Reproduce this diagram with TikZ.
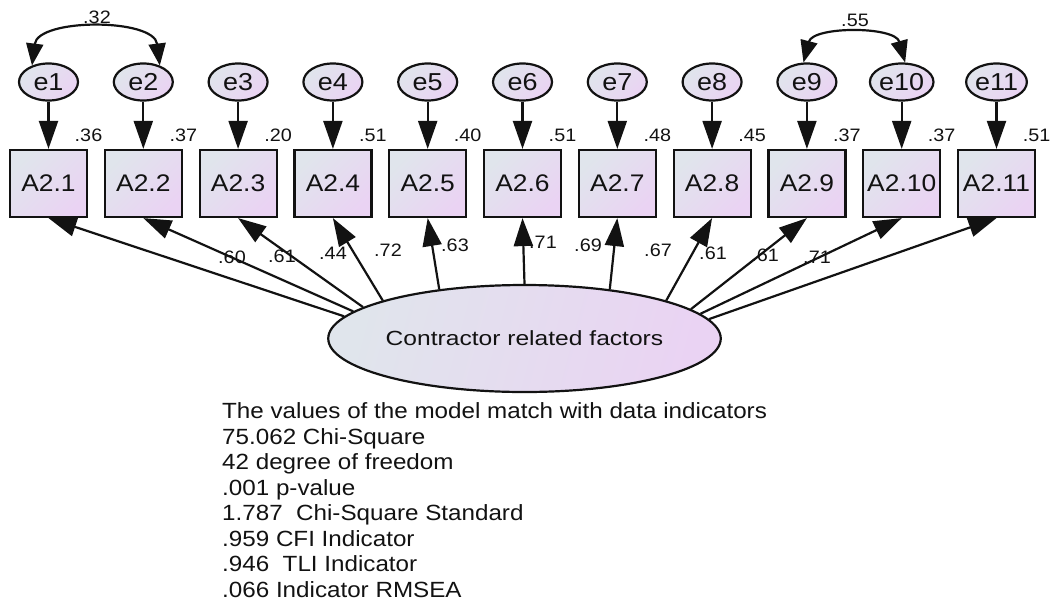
\documentclass[tikz,border=0pt]{standalone}
\usepackage{fontspec}
\setmainfont{Liberation Sans}[FakeStretch=1.1]
\newfontfamily\widefont{Liberation Sans}[FakeStretch=1.2]
\usetikzlibrary{arrows.meta,shapes.geometric}
\definecolor{boxA}{RGB}{224,229,236}
\definecolor{boxB}{RGB}{234,211,243}
\definecolor{ink}{RGB}{18,18,18}
\begin{document}
\begin{tikzpicture}[x=1pt,y=-1pt,
  obs/.style={draw=ink, line width=2.2pt, minimum width=77pt, minimum height=67pt,
    inner sep=0pt, top color=boxA, bottom color=boxB, shading angle=45,
    font=\fontsize{24}{24}\selectfont, text=ink},
  err/.style={ellipse, draw=ink, line width=2.2pt, minimum width=59pt, minimum height=37pt,
    inner sep=0pt, top color=boxA, bottom color=boxB, shading angle=45,
    font=\fontsize{24.5}{24}\selectfont, text=ink},
  lat/.style={ellipse, draw=ink, line width=2.2pt, minimum width=295pt, minimum height=107pt,
    inner sep=0pt, left color=boxA, right color=boxB, shading angle=75,
    font=\widefont\fontsize{20.5}{22}\selectfont, text=ink},
  arr/.style={-{Triangle[length=28pt,width=19pt]}, line width=2.2pt, draw=ink},
  cov/.style={{Triangle[length=22pt,width=17pt]}-{Triangle[length=22pt,width=17pt]},
    line width=2.2pt, draw=ink},
  num/.style={font=\fontsize{18}{18}\selectfont, inner sep=0pt, text=ink},
  fitbox/.style={anchor=north west, align=left, inner sep=0pt,
    font=\fontsize{22}{25.5}\selectfont, text=ink}
]
\useasboundingbox (0,0) rectangle (1057,600);

\node[lat] (F) at (524.5,338.5) {Contractor related factors};

\foreach \i/\r [count=\k from 0] in {1/.36,2/.37,3/.20,4/.51,5/.40,6/.51,7/.48,8/.45,9/.37,10/.37,11/.51}{
  \pgfmathsetmacro\xx{48.5+94.8*\k}
  \node[obs] (A\i) at (\xx,183.5) {A2.\i};
  \node[err] (e\i) at (\xx,82) {e\i};
  \node[num] (r\i) at (\xx+40,135) {\r};
  \draw[arr] (e\i) -- (A\i);
}

\foreach \i/\a/\l/\lx/\ly in {1/173/.60/232/257, 2/171.5/.61/282/256, 3/169/.44/333/253,
  4/165.5/.72/388/250, 5/150.4/.63/455/245, 6/90/.71/543/242, 7/30.2/.69/588/245,
  8/15.3/.67/658/250, 9/10.6/.61/713/253, 10/8.5/.61/765/255, 11/6.2/.71/817/257}{
  \draw[arr] (F.\a) -- (A\i.south);
  \node[num] (p\i) at (\lx,\ly) {\l};
}

\draw[cov] (e1.135) .. controls (38,18) and (154,18) .. (e2.45);
\node[num] (c12) at (97,17) {.32};
\draw[cov] (e9.100) .. controls (813,26) and (895,26) .. (e10.80);
\node[num] (c910) at (855,20) {.55};

\node[fitbox] (fit) at (222,402.5) {The values of the model match with data indicators\\
75.062 Chi-Square\\
42 degree of freedom\\
.001 p-value\\
1.787~ Chi-Square Standard\\
.959 CFI Indicator\\
.946~ TLI Indicator\\
.066 Indicator RMSEA};
\end{tikzpicture}
\end{document}
